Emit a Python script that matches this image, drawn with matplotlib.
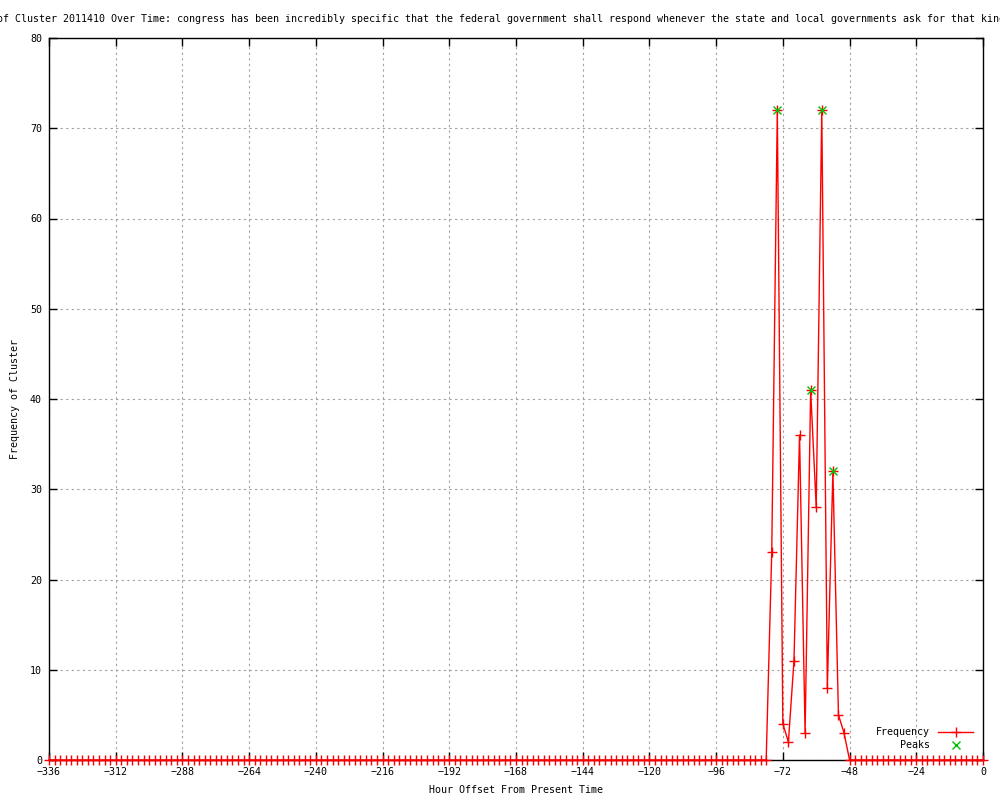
import numpy as np
import matplotlib.pyplot as plt

# hour offsets (every 2 hours) and the nonzero counts
hours = np.arange(-336, 1, 2)
active_hours = [-76, -74, -72, -70, -68, -66, -64, -62, -60, -58, -56, -54, -52, -50]
active_counts = [23, 72, 4, 2, 11, 36, 3, 41, 28, 72, 8, 32, 5, 3]

peak_hours = [-74, -62, -58, -54]
peak_counts = [72, 41, 72, 32]

freq = np.zeros(len(hours))
for h, c in zip(active_hours, active_counts):
    freq[hours == h] = c

title = ("Frequency of Cluster 2011410 Over Time: congress has been incredibly specific "
         "that the federal government shall respond whenever the state and local "
         "governments ask for that kind of assistance")

plt.rcParams['font.family'] = ['DejaVu Sans Mono']
fs = 7.2

fig = plt.figure(figsize=(10, 8), dpi=100)
ax = fig.add_axes([0.049, 0.05, 0.934, 0.9025])

ax.plot(hours, freq, color='#ff0000', lw=1, marker='+', ms=7, mew=1, label='Frequency',
        clip_on=False, zorder=5)
ax.plot(peak_hours, peak_counts, ls='none', color='#00c000', marker='x', ms=6, mew=1,
        label='Peaks', zorder=6)

ax.set_xlim(-336, 0)
ax.set_ylim(0, 80)
ax.set_xticks(np.arange(-336, 1, 24))
ax.set_yticks(np.arange(0, 81, 10))
ax.tick_params(direction='in', length=6, width=1, top=True, right=True,
               labelsize=fs, pad=5)
ax.grid(True, color='#a0a0a0', ls=(0, (2, 3)), lw=0.8)
for s in ax.spines.values():
    s.set_linewidth(1)

ax.set_xlabel('Hour Offset From Present Time', fontsize=fs, labelpad=6)
ax.set_ylabel('Frequency of Cluster', fontsize=fs, labelpad=7)

# title is wider than the canvas, same as the original
fig.text(-0.063, 0.976, title, fontsize=fs, ha='left', va='center')

ax.legend(loc='lower right', frameon=False, markerfirst=False, fontsize=fs,
          handlelength=3.5, borderaxespad=0.6, labelspacing=0.3)

fig.savefig('out.png', dpi=100)
